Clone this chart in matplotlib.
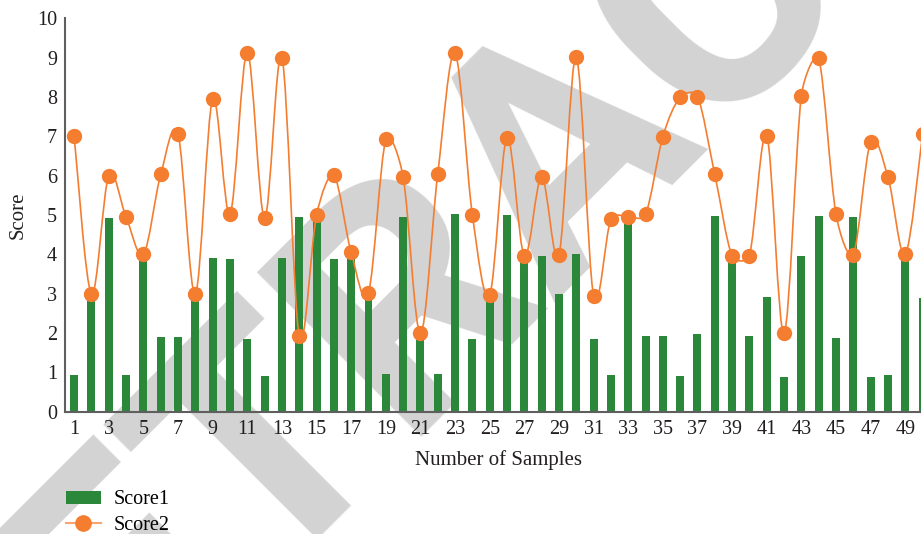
import matplotlib
matplotlib.use("Agg")
import math
import matplotlib.pyplot as plt
from matplotlib.path import Path
from matplotlib.patches import PathPatch, Patch
from matplotlib.lines import Line2D

samples = list(range(1, 51))
score1 = [0.93, 2.9, 4.92, 0.93, 3.9, 1.89, 1.89, 2.92, 3.9, 3.88,
          1.86, 0.91, 3.9, 4.94, 4.92, 3.88, 3.9, 2.88, 0.96, 4.94,
          1.9, 0.97, 5.03, 1.86, 2.88, 5.0, 3.86, 3.96, 2.99, 4.01,
          1.86, 0.93, 4.87, 1.92, 1.92, 0.91, 1.97, 4.97, 3.86, 1.92,
          2.92, 0.87, 3.96, 4.97, 1.88, 4.95, 0.87, 0.93, 3.94, 2.9]
score2 = [7.0, 2.99, 6.0, 4.95, 4.0, 6.03, 7.05, 2.99, 7.95, 5.02,
          9.13, 4.92, 9.0, 1.92, 5.0, 6.01, 4.05, 3.03, 6.92, 5.97,
          1.99, 6.05, 9.11, 5.0, 2.97, 6.97, 3.96, 5.97, 3.99, 9.01,
          2.95, 4.89, 4.96, 5.02, 6.99, 7.99, 8.01, 6.03, 3.96, 3.97,
          7.02, 1.99, 8.03, 8.99, 5.02, 3.99, 6.85, 5.97, 4.0, 7.05]
xticks = list(range(1, 50, 2))
yticks = list(range(0, 11))

GREEN = "#2b873a"
ORANGE = "#f47d30"
SPINE = "#5f5f5f"
TEXT = "#231f20"

plt.rcParams['font.family'] = ['Liberation Serif', 'DejaVu Serif']

fig = plt.figure(figsize=(9.21, 5.34), dpi=100)
fig.patch.set_facecolor("white")

# watermark behind the chart
fig.text(0.683, 0.611, "RETRACTED", fontsize=235, fontweight="bold",
         family=["Roboto", "DejaVu Sans"], color="#d3d3d3", rotation=45,
         rotation_mode="anchor", ha="center", va="baseline", zorder=-5)

ax = fig.add_axes([0.0711, 0.229, 0.94, 0.7367])
ax.set_facecolor("none")

ax.bar(samples, score1, width=0.46, color=GREEN, zorder=2)

# smoothed line (Excel-like Bezier smoothing) through the score2 points
SX, SY = 17.3, 39.3  # approx pixels per data unit, used to limit tangents
def _d(a, b):
    return math.hypot((a[0] - b[0]) * SX, (a[1] - b[1]) * SY)

pts = list(zip(samples, score2))
n = len(pts)
verts = [pts[0]]
codes = [Path.MOVETO]
for i in range(n - 1):
    p0 = pts[max(i - 1, 0)]
    p1 = pts[i]
    p2 = pts[i + 1]
    p3 = pts[min(i + 2, n - 1)]
    d12 = _d(p1, p2)
    d02 = _d(p0, p2)
    d13 = _d(p1, p3)
    f = 1.0 / 6.0
    if (d02 / 6.0 < d12 / 2.0) and (d13 / 6.0 < d12 / 2.0):
        f1 = f2 = f
    else:
        fa = d12 / d02 / 2.0 if d02 > 0 else f
        fb = d12 / d13 / 2.0 if d13 > 0 else f
        f1 = f2 = min(f, fa, fb)
    c1 = (p1[0] + (p2[0] - p0[0]) * f1, p1[1] + (p2[1] - p0[1]) * f1)
    c2 = (p2[0] - (p3[0] - p1[0]) * f2, p2[1] - (p3[1] - p1[1]) * f2)
    verts += [c1, c2, p2]
    codes += [Path.CURVE4, Path.CURVE4, Path.CURVE4]
ax.add_patch(PathPatch(Path(verts, codes), facecolor="none",
                       edgecolor=ORANGE, lw=1.2, zorder=3))
ax.plot(samples, score2, linestyle="none", marker="o", markersize=10,
        color=ORANGE, zorder=4)

ax.set_xlim(0.5, 50.5)
ax.set_ylim(0, 10)
ax.set_xticks(xticks)
ax.set_yticks(yticks)
ax.tick_params(length=0, labelsize=14.5, colors=TEXT)
ax.tick_params(axis="x", pad=6)
ax.tick_params(axis="y", pad=6)
for s in ["top", "right"]:
    ax.spines[s].set_visible(False)
for s in ["left", "bottom"]:
    ax.spines[s].set_color(SPINE)
    ax.spines[s].set_linewidth(1.5)

ax.set_xlabel("Number of Samples", fontsize=15, color=TEXT, labelpad=8)
ax.set_ylabel("Score", fontsize=15, color=TEXT, labelpad=7)

handles = [Patch(facecolor=GREEN, edgecolor="none"),
           Line2D([0], [0], color="#f7a46e", lw=1.5, marker="o",
                  markersize=11, markerfacecolor=ORANGE, markeredgecolor=ORANGE)]
fig.legend(handles, ["Score1", "Score2"], loc="upper left",
           bbox_to_anchor=(0.0625, 0.097), frameon=False,
           fontsize=14.5, handlelength=1.75, handleheight=0.6,
           labelspacing=0.33, handletextpad=0.62, borderaxespad=0)

fig.savefig("out.png", dpi=100)
